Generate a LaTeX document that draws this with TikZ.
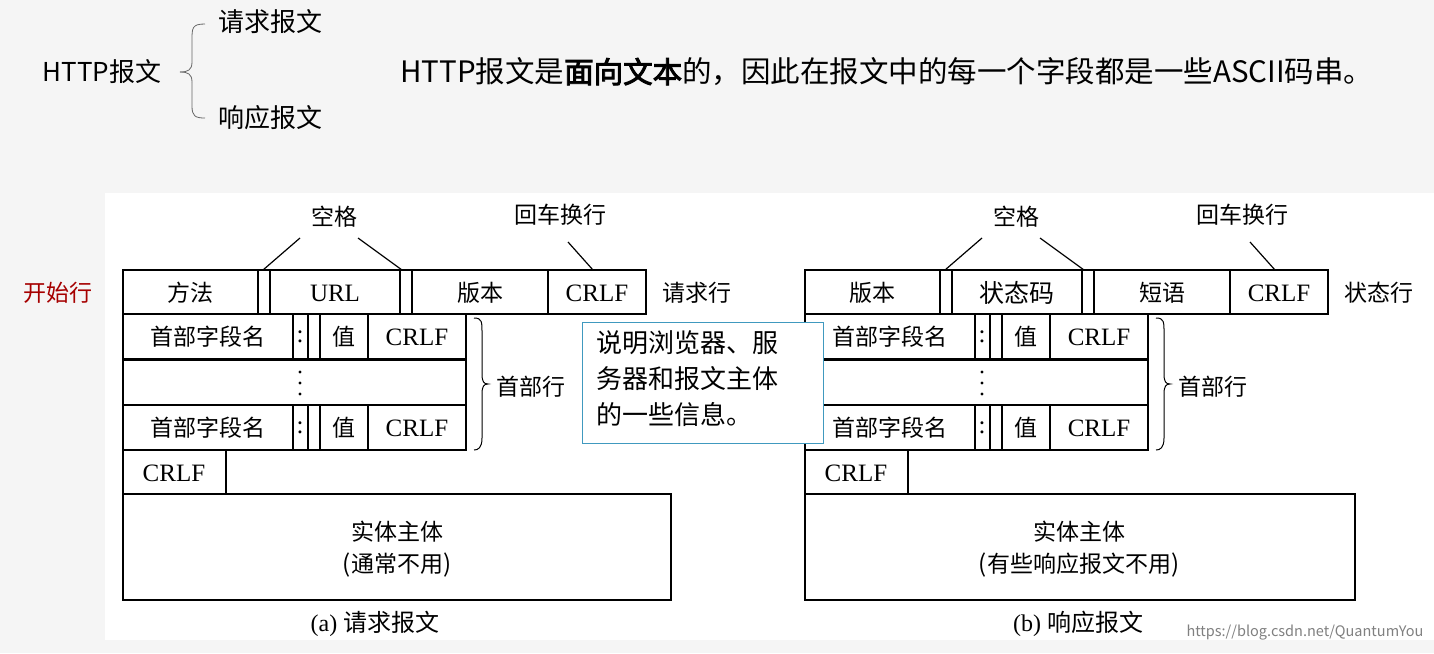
\documentclass[tikz,border=0pt]{standalone}
\usepackage{fontspec}
\setmainfont{Liberation Serif}
\newfontfamily\cjk{Noto Sans CJK SC}
\newfontfamily\cjkbold{Noto Sans CJK SC}[FakeBold=3]
\begin{document}
\begin{tikzpicture}[x=1pt,y=-1pt,
  box/.style={draw=black,line width=1.6pt},
  lab/.style={font=\cjk\fontsize{23}{26}\selectfont,inner sep=0pt},
  lat/.style={font=\fontsize{25}{28}\selectfont,inner sep=0pt},
  top/.style={font=\cjk\fontsize{26}{30}\selectfont,inner sep=0pt},
  ptr/.style={line width=1.2pt}]
\useasboundingbox (0,0) rectangle (1434,653);
\fill[black!4] (0,0) rectangle (1434,653);
\fill[white] (105,193) rectangle (1434,640);
% top
\node[top] (http) at (102,72) {HTTP报文};
\node[top,anchor=west] (req) at (218,22) {请求报文};
\node[top,anchor=west] (resp) at (218,118) {响应报文};
\draw[line width=0.8pt,black!60] (205,24) .. controls (192,24) and (192,28) .. (192,40) -- (192,62) .. controls (192,70) and (188,72) .. (180,72);
\draw[line width=0.8pt,black!60] (192,82) .. controls (192,74) and (188,72) .. (180,72);
\draw[line width=0.8pt,black!60] (192,82) -- (192,106) .. controls (192,116) and (195,118) .. (205,118);
\node[font=\cjk\fontsize{29.5}{32}\selectfont,inner sep=0pt,anchor=west] (stmt) at (400,72) {HTTP报文是{\cjkbold 面向文本}的，因此在报文中的每一个字段都是一些ASCII码串。};
\node[font=\cjk\fontsize{23}{26}\selectfont,text=red!65!black,inner sep=0pt] (start) at (58,293) {开始行};
% diagrams
\foreach \o/\a/\b/\c/\d/\e/\cap/\ew/\cx in {0/方法/URL/版本/请求行/通常不用/{(a) {\cjk 请求报文}}/548/375, 682/版本/{\cjk 状态码}/短语/状态行/有些响应报文不用/{(b) {\cjk 响应报文}}/550/396}{
 \begin{scope}[xshift=\o]
  \draw[box] (123,270) rectangle (646,314);
  \foreach \x in {258,270,400,412,548} \draw[box] (\x,270)--(\x,314);
  \foreach \y in {314,405}{
   \draw[box] (123,\y) rectangle (466,\y+45);
   \foreach \x in {293,308,320,368} \draw[box] (\x,\y)--(\x,\y+45);
   \node[lab] at (208,\y+23) {首部字段名};
   \node[lat] at (300,\y+23) {:};
   \node[lab] at (344,\y+23) {值};
   \node[lat] at (417,\y+23) {CRLF};
  }
  \draw[box] (123,360) rectangle (466,405);
  \foreach \yy in {372,383,394} \fill (300,\yy) circle (1.6pt);
  \draw[box] (123,450) rectangle (226,494);
  \node[lat] at (174,473) {CRLF};
  \node[lab] at (190,293) {\a};
  \node[lat] at (335,293) {\b};
  \node[lab] at (480,293) {\c};
  \node[lat] at (597,293) {CRLF};
  \node[lab,anchor=west] at (662,293) {\d};
  \node[lab] (sp) at (334,217) {空格};
  \node[lab] (cr) at (560,215) {回车换行};
  \draw[ptr] (300,238) -- (263,270);
  \draw[ptr] (358,238) -- (402,270);
  \draw[ptr] (568,242) -- (593,270);
  \draw[line width=1pt] (474,318) .. controls (482,318) and (482,322) .. (482,332) -- (482,374) .. controls (482,382) and (484,384) .. (488,384) .. controls (484,384) and (482,386) .. (482,394) -- (482,438) .. controls (482,448) and (478,450) .. (474,450);
  \node[lab,anchor=west] at (496,387) {首部行};
  \draw[line width=1.6pt] (123,494) rectangle (123+\ew,600);
  \node[lab,align=center] at (397,549) {实体主体\\[6pt]{\fontsize{24}{26}\selectfont(}\e{\fontsize{24}{26}\selectfont)}};
  \node[font=\fontsize{24}{26}\selectfont,inner sep=0pt] at (\cx,624) {\cap};
 \end{scope}}
\node[text=black!50,font=\cjk\fontsize{14.5}{16}\selectfont,inner sep=0pt] (wm) at (1305,633) {https://blog.csdn.net/QuantumYou};
% callout
\node[draw=blue!30!cyan!50!gray,line width=1pt,fill=white,minimum width=241pt,minimum height=121pt,inner sep=0pt] (call) at (702.5,382.5) {};
\node[anchor=north west,font=\cjk\fontsize{26}{36}\selectfont,align=left,inner sep=0pt] (calltxt) at (596,330) {说明浏览器、服\\务器和报文主体\\的一些信息。};
\end{tikzpicture}
\end{document}
